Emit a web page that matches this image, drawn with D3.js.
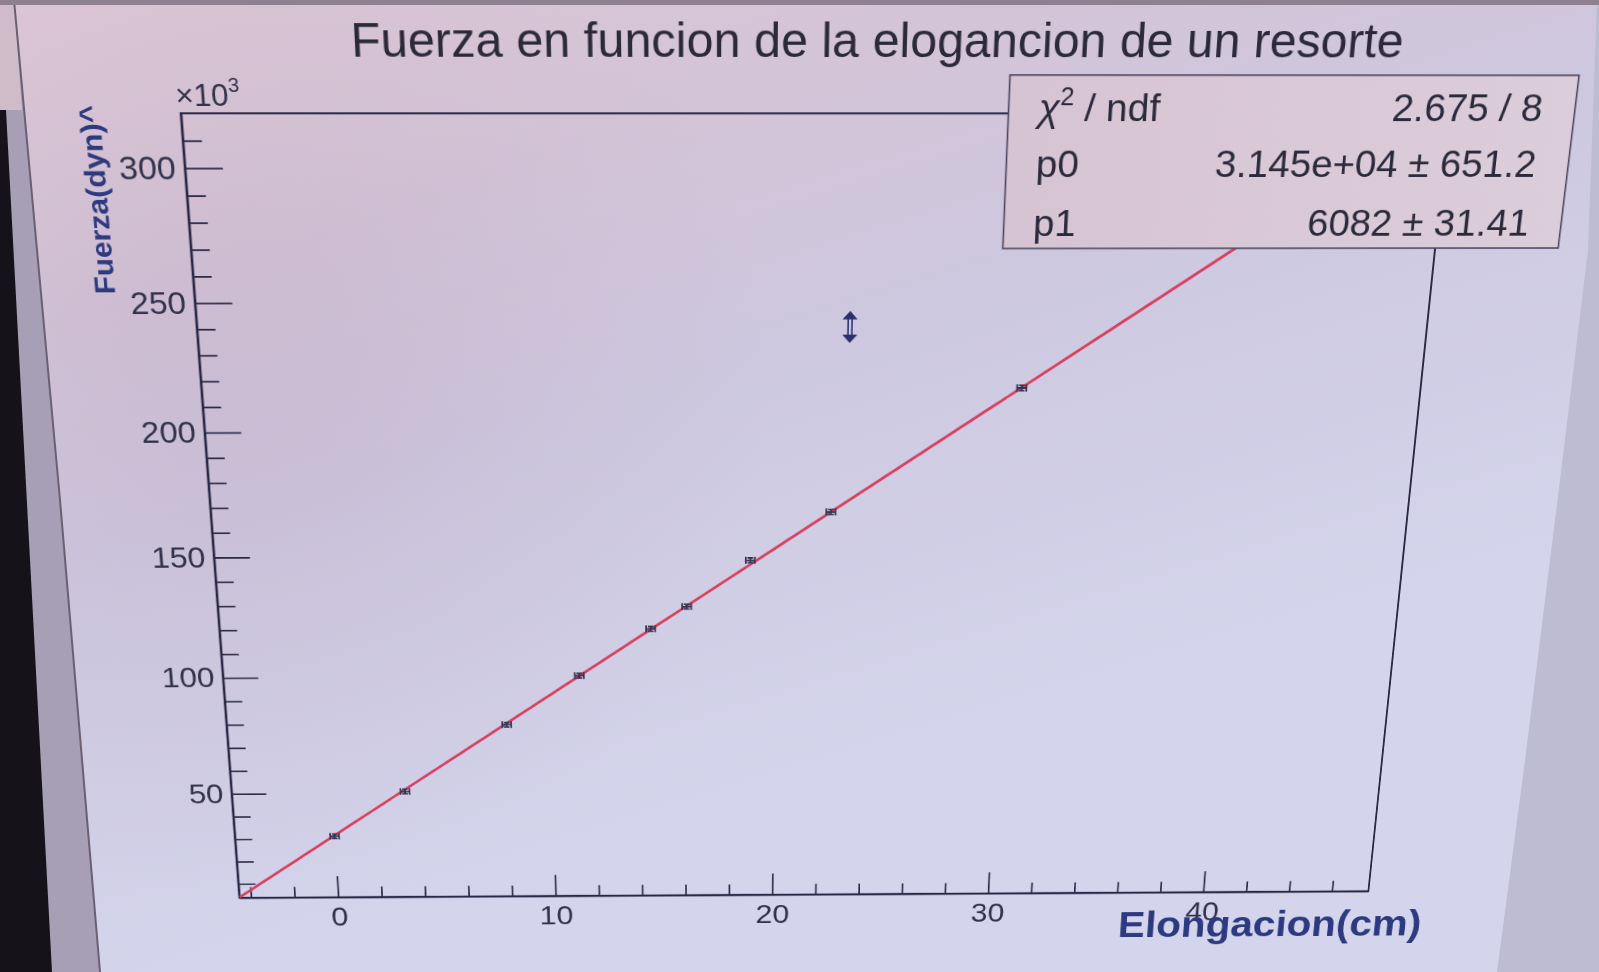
<!DOCTYPE html>
<html><head><meta charset="utf-8">
<script src="https://cdn.jsdelivr.net/npm/d3@7"></script>
<style>
html,body{margin:0;padding:0;overflow:hidden;background:#bdbad0;width:1599px;height:972px;}
#bg{position:absolute;left:0;top:0;}
#flat{position:absolute;left:0;top:0;transform-origin:0 0;overflow:visible;}
text{font-family:"Liberation Sans",Arial,Helvetica,sans-serif;}
</style></head><body>
<svg id="bg" width="1599" height="972"></svg>
<svg id="flat" width="1700" height="1150"></svg>
<script>
// ---------------- data ----------------
const chartTitle = "Fuerza en funcion de la elogancion de un resorte";
const xTitle = "Elongacion(cm)";
const yTitle = "Fuerza(dyn)^";
const elongation = [0, 3.3, 8.0, 11.3, 14.5, 16.1, 18.9, 22.4, 30.5, 43.2];      // cm
const force = [31100, 50700, 79500, 100300, 119900, 129100, 148100, 167700, 216800, 293500]; // dyn
const elongationErr = [0.2, 0.2, 0.2, 0.2, 0.2, 0.2, 0.2, 0.2, 0.2, 0.2];
const forceErr = [1000, 1000, 1000, 1000, 1000, 1000, 1000, 1000, 1000, 1000];
const fitParams = [31450, 6082];               // p0, p1
const statsNames = ["χ", "p0", "p1"];
const statsValues = ["2.675 / 8", "3.145e+04 ± 651.2", "6082 ± 31.41"];
const xDomain = [-4.54, 47.7];
const yDomain = [3750, 319850];
const xTickValues = [0, 10, 20, 30, 40];
const xTickLabels = ["0", "10", "20", "30", "40"];
const yTickValues = [50000, 100000, 150000, 200000, 250000, 300000];
const yTickLabels = ["50", "100", "150", "200", "250", "300"];

// ---------------- perspective (photo of a screen) ----------------
const FX0 = 180.7, FY0 = 113.3, FW = 1268.3, FH = 882.5;        // flat frame
const quad = [[180.7,113.3],[1449,113.5],[1368.3,891],[239.3,897.7]]; // frame corners in the photo
function sq2quad(q){
  const [x0,y0]=q[0],[x1,y1]=q[1],[x2,y2]=q[2],[x3,y3]=q[3];
  const dx1=x1-x2, dx2=x3-x2, dx3=x0-x1+x2-x3;
  const dy1=y1-y2, dy2=y3-y2, dy3=y0-y1+y2-y3;
  const den=dx1*dy2-dx2*dy1;
  const g=(dx3*dy2-dx2*dy3)/den, h=(dx1*dy3-dx3*dy1)/den;
  return [[x1-x0+g*x1, x3-x0+h*x3, x0],[y1-y0+g*y1, y3-y0+h*y3, y0],[g,h,1]];
}
function mul(A,B){const C=[[0,0,0],[0,0,0],[0,0,0]];for(let i=0;i<3;i++)for(let j=0;j<3;j++)for(let k=0;k<3;k++)C[i][j]+=A[i][k]*B[k][j];return C;}
function inv(m){
  const [a,b,c]=m[0],[d,e,f]=m[1],[g,h,i]=m[2];
  const C00=e*i-f*h,C01=-(d*i-f*g),C02=d*h-e*g,C10=-(b*i-c*h),C11=a*i-c*g,C12=-(a*h-b*g),C20=b*f-c*e,C21=-(a*f-c*d),C22=a*e-b*d;
  const det=a*C00+b*C01+c*C02;
  return [[C00/det,C10/det,C20/det],[C01/det,C11/det,C21/det],[C02/det,C12/det,C22/det]];
}
function apply(m,x,y){const w=m[2][0]*x+m[2][1]*y+m[2][2];return [(m[0][0]*x+m[0][1]*y+m[0][2])/w,(m[1][0]*x+m[1][1]*y+m[1][2])/w];}
const M = mul(sq2quad(quad), [[1/FW,0,-FX0/FW],[0,1/FH,-FY0/FH],[0,0,1]]);
const Minv = inv(M);
const toFlat = (px,py)=>apply(Minv,px,py);
d3.select("#flat").style("transform",
  `matrix3d(${M[0][0]},${M[1][0]},0,${M[2][0]},${M[0][1]},${M[1][1]},0,${M[2][1]},0,0,1,0,${M[0][2]},${M[1][2]},0,${M[2][2]})`);

// ---------------- background (screen, bezel) ----------------
const bg = d3.select("#bg");
const bdefs = bg.append("defs");
const lg = bdefs.append("linearGradient").attr("id","cv").attr("gradientUnits","userSpaceOnUse")
  .attr("x1",0).attr("y1",0).attr("x2",300).attr("y2",972);
[[0,"#dcc7d5"],[0.3,"#d4c4d8"],[0.55,"#cdc8df"],[1,"#d4d5ed"]].forEach(s=>lg.append("stop").attr("offset",s[0]).attr("stop-color",s[1]));
const rg = bdefs.append("radialGradient").attr("id","mauve").attr("gradientUnits","userSpaceOnUse")
  .attr("cx",250).attr("cy",380).attr("r",520);
rg.append("stop").attr("offset",0).attr("stop-color","#b79db6").attr("stop-opacity",0.25);
rg.append("stop").attr("offset",1).attr("stop-color","#b79db6").attr("stop-opacity",0);
bg.append("rect").attr("width",1599).attr("height",972).attr("fill","#bebcd2");
const canvasPts = [[14,0],[1597,0],[1588,250],[1560,480],[1525,760],[1497,972],[100,972],[60,500]];
bg.append("polygon").attr("points",canvasPts.map(p=>p.join(",")).join(" ")).attr("fill","url(#cv)");
bg.append("polygon").attr("points",canvasPts.map(p=>p.join(",")).join(" ")).attr("fill","url(#mauve)");
bg.append("polygon").attr("points","0,0 14,0 60,500 100,972 0,972").attr("fill","#a69fb6");
bg.append("polygon").attr("points","0,0 14,0 22,110 0,110").attr("fill","#d0bcc9");
bg.append("polygon").attr("points","0,110 6,110 52,972 0,972").attr("fill","#151219");
bg.append("polyline").attr("points","14,0 60,500 100,972").attr("fill","none").attr("stroke","#6a6072").attr("stroke-width",2);
bg.append("rect").attr("width",1599).attr("height",5).attr("fill","#8e8090");

// ---------------- chart (flat coordinates) ----------------
const svg = d3.select("#flat");
const x = d3.scaleLinear().domain(xDomain).range([FX0, FX0+FW]);
const y = d3.scaleLinear().domain(yDomain).range([FY0+FH, FY0]);
const axisColor = "#2b2947", labelColor = "#33324c", titleBlue = "#2d3a7f";

svg.append("defs").append("clipPath").attr("id","frameClip")
  .append("rect").attr("x",FX0).attr("y",FY0).attr("width",FW).attr("height",FH);

// frame
svg.append("rect").attr("x",FX0).attr("y",FY0).attr("width",FW).attr("height",FH)
  .attr("fill","none").attr("stroke",axisColor).attr("stroke-width",2);

// minor ticks
const xMinor = d3.range(-4, 48, 2).filter(v => v>=xDomain[0] && v<=xDomain[1] && v%10!==0);
const yMinor = d3.range(10000, 320000, 10000).filter(v => v>=yDomain[0] && v<=yDomain[1] && v%50000!==0);

function styleAxis(g){
  g.attr("font-size",null).attr("font-family",null);
  g.select(".domain").attr("stroke",axisColor).attr("stroke-width",2);
  g.selectAll(".tick line").attr("stroke",axisColor).attr("stroke-width",1.8);
  g.selectAll(".tick text").attr("fill",labelColor).style("font-size","34px")
   .style("font-family",'"Liberation Sans",Arial,sans-serif');
}
const gyMin = svg.append("g").attr("transform",`translate(${FX0},0)`)
  .call(d3.axisLeft(y).tickValues(yMinor).tickSize(-FW*0.015).tickSizeOuter(0).tickFormat(""));
styleAxis(gyMin);
const gy = svg.append("g").attr("transform",`translate(${FX0},0)`)
  .call(d3.axisLeft(y).tickValues(yTickValues).tickSize(-FW*0.03).tickSizeOuter(0).tickPadding(9)
    .tickFormat((d,i)=>yTickLabels[i]));
styleAxis(gy);
const gxMin = svg.append("g").attr("transform",`translate(0,${FY0+FH})`)
  .call(d3.axisBottom(x).tickValues(xMinor).tickSize(-FH*0.015).tickSizeOuter(0).tickFormat(""));
styleAxis(gxMin);
const gx = svg.append("g").attr("transform",`translate(0,${FY0+FH})`)
  .call(d3.axisBottom(x).tickValues(xTickValues).tickSize(-FH*0.03).tickSizeOuter(0).tickPadding(12)
    .tickFormat((d,i)=>xTickLabels[i]));
styleAxis(gx);

// ×10^3
const e10 = svg.append("text").attr("x",FX0-4).attr("y",FY0-7).attr("fill",labelColor).style("font-size","31px");
e10.append("tspan").text("×10");
e10.append("tspan").attr("dy",-14).style("font-size","20px").text("3");

// fit line
const plot = svg.append("g").attr("clip-path","url(#frameClip)");
const fitX = d3.range(0, 101).map(i => xDomain[0] + (xDomain[1]-xDomain[0])*i/100);
plot.append("path").datum(fitX)
  .attr("d", d3.line().x(d=>x(d)).y(d=>y(fitParams[0]+fitParams[1]*d)))
  .attr("fill","none").attr("stroke","#d8405f").attr("stroke-width",3);

// data points with error bars
const pts = plot.selectAll("g.pt").data(elongation.map((v,i)=>({x:v,y:force[i],ex:elongationErr[i],ey:forceErr[i]})))
  .enter().append("g").attr("class","pt").attr("stroke","#34324f").attr("stroke-width",1.8).attr("fill","none");
pts.append("path").attr("d",d=>{
  const x0=x(d.x-d.ex), x1=x(d.x+d.ex), yc=y(d.y), xc=x(d.x), y0=y(d.y-d.ey), y1=y(d.y+d.ey);
  return `M${x0},${yc}H${x1}M${x0},${yc-4}V${yc+4}M${x1},${yc-4}V${yc+4}M${xc},${y0}V${y1}M${xc-3},${y0}H${xc+3}M${xc-3},${y1}H${xc+3}`;
});

// stats box
const sTL = toFlat(1010,75), sBR = toFlat(1558,248);
const sdefs = svg.select("defs");
const sg = sdefs.append("linearGradient").attr("id","statFill");
sg.append("stop").attr("offset",0).attr("stop-color","#d7c4d3");
sg.append("stop").attr("offset",1).attr("stop-color","#dccdda");
svg.append("rect").attr("x",sTL[0]).attr("y",sTL[1]).attr("width",sBR[0]-sTL[0]).attr("height",sBR[1]-sTL[1])
  .attr("fill","url(#statFill)").attr("stroke","#4b4662").attr("stroke-width",1.6);
const rowY = [121.5,177.5,236.5];
const leftX = toFlat(1038,121.5)[0], rightX = toFlat(1541,121.5)[0];
statsNames.forEach((n,i)=>{
  const yy = toFlat(1036,rowY[i])[1];
  const t = svg.append("text").attr("x",leftX).attr("y",yy).attr("fill","#2b2a3c").style("font-size","39px");
  if(i===0){
    t.append("tspan").style("font-style","italic").text(n);
    t.append("tspan").attr("dy",-16).style("font-size","25px").text("2");
    t.append("tspan").attr("dy",16).text(" / ndf");
  } else t.text(n);
  svg.append("text").attr("x",rightX).attr("y",yy).attr("text-anchor","end").attr("fill","#2b2a3c")
    .style("font-size","39px").text(statsValues[i]);
});

// title
const tPos = toFlat(879,57);
svg.append("text").attr("x",tPos[0]).attr("y",tPos[1]).attr("text-anchor","middle")
  .attr("fill","#2c2a3a").style("font-size","48px").text(chartTitle);

// axis titles
const xtPos = toFlat(1420,935);
svg.append("text").attr("x",xtPos[0]).attr("y",xtPos[1]).attr("text-anchor","end")
  .attr("fill",titleBlue).style("font-size","46px").style("font-weight","bold").text(xTitle);
const ytPos = toFlat(99,105);
svg.append("text").attr("transform",`translate(${ytPos[0]},${ytPos[1]}) rotate(-90)`).attr("text-anchor","end")
  .attr("fill",titleBlue).style("font-size","29px").style("font-weight","bold")
  .attr("textLength",194).attr("lengthAdjust","spacingAndGlyphs").text(yTitle);

// mouse cursor (double arrow)
const cPos = toFlat(850,327);
svg.append("path").attr("transform",`translate(${cPos[0]},${cPos[1]})`)
  .attr("d","M-2,-10V10M2,-10V10M-6,-9L0,-16L6,-9ZM-6,9L0,16L6,9Z")
  .attr("fill","#2b2f6e").attr("stroke","#2b2f6e").attr("stroke-width",1.6);
</script>
</body></html>
